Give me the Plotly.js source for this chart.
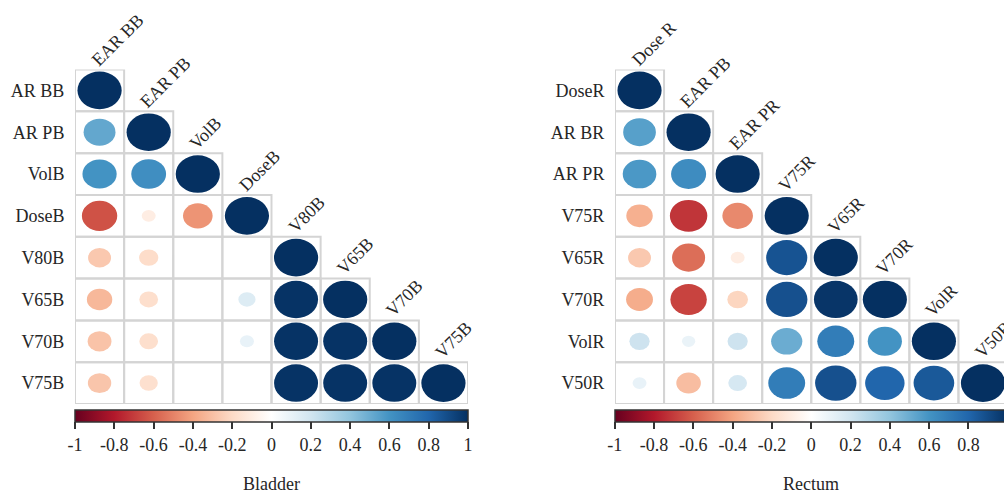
<!DOCTYPE html>
<html>
<head>
<meta charset="utf-8">
<script src="https://cdn.plot.ly/plotly-3.0.1.min.js"></script>
<style>
html, body { margin: 0; padding: 0; overflow: hidden; background: #fff; }
#chart { width: 1010px; height: 493px; }
</style>
</head>
<body>
<div id="chart"></div>
<script>
// ---------- data ----------
const bladderRows = ["AR BB", "AR PB", "VolB", "DoseB", "V80B", "V65B", "V70B", "V75B"];
const bladderCols = ["EAR BB", "EAR PB", "VolB", "DoseB", "V80B", "V65B", "V70B", "V75B"];
const bladderCorr = [
  [1],
  [0.52, 1],
  [0.60, 0.62, 1],
  [-0.64, -0.10, -0.45, 1],
  [-0.27, -0.19, 0, 0, 1],
  [-0.33, -0.18, 0, 0.15, 0.99, 1],
  [-0.29, -0.18, 0, 0.10, 0.99, 0.99, 1],
  [-0.28, -0.17, 0, 0, 0.99, 0.99, 0.99, 1]
];

const rectumRows = ["DoseR", "AR BR", "AR PR", "V75R", "V65R", "V70R", "VolR", "V50R"];
const rectumCols = ["Dose R", "EAR PB", "EAR PR", "V75R", "V65R", "V70R", "VolR", "V50R"];
const rectumCorr = [
  [1],
  [0.55, 1],
  [0.58, 0.63, 1],
  [-0.36, -0.72, -0.48, 1],
  [-0.27, -0.56, -0.10, 0.87, 1],
  [-0.37, -0.68, -0.22, 0.88, 0.98, 1],
  [0.21, 0.09, 0.21, 0.50, 0.70, 0.60, 1],
  [0.10, -0.31, 0.18, 0.70, 0.88, 0.80, 0.85, 1]
];

const panelTitles = ["Bladder", "Rectum"];
const colorTicks = [-1, -0.8, -0.6, -0.4, -0.2, 0, 0.2, 0.4, 0.6, 0.8, 1];
const colorTickText = ["-1", "-0.8", "-0.6", "-0.4", "-0.2", "0", "0.2", "0.4", "0.6", "0.8", "1"];

// ---------- styling ----------
const W = 1010, H = 493;
const palette = ["#67001F", "#B2182B", "#D6604D", "#F4A582", "#FDDBC7", "#FFFFFF",
                 "#D1E5F0", "#92C5DE", "#4393C3", "#2166AC", "#053061"];
const colorscale = palette.map((c, i) => [i / (palette.length - 1), c]);
const FONT = "Liberation Serif";
const TXT = "#262626";

function hexToRgb(h) {
  return [parseInt(h.slice(1, 3), 16), parseInt(h.slice(3, 5), 16), parseInt(h.slice(5, 7), 16)];
}
function corrColor(v) {
  const t = (v + 1) / 2 * (palette.length - 1);
  const i = Math.min(Math.floor(t), palette.length - 2);
  const f = t - i;
  const a = hexToRgb(palette[i]), b = hexToRgb(palette[i + 1]);
  const c = a.map((x, k) => Math.round(x + (b[k] - x) * f));
  return `rgb(${c[0]},${c[1]},${c[2]})`;
}

// panel pixel geometry
const panels = [
  { rows: bladderRows, cols: bladderCols, corr: bladderCorr, x0: 75, x1: 468, title: panelTitles[0] },
  { rows: rectumRows, cols: rectumCols, corr: rectumCorr, x0: 615, x1: 1007.5, title: panelTitles[1] }
];
const gridTop = 69.5, gridBottom = 404;
const cbTop = 410;

const traces = [];
const shapes = [];
const annotations = [];
const layout = {
  width: W, height: H,
  margin: { l: 0, r: 0, t: 0, b: 0 },
  paper_bgcolor: "#fff", plot_bgcolor: "rgba(0,0,0,0)",
  showlegend: false,
  font: { family: FONT, size: 18, color: TXT },
  shapes: shapes, annotations: annotations,
  hovermode: "closest"
};

panels.forEach((p, k) => {
  const xa = k === 0 ? "x" : "x2";
  const ya = k === 0 ? "y" : "y2";
  const n = p.rows.length;
  layout[k === 0 ? "xaxis" : "xaxis2"] = {
    domain: [p.x0 / W, p.x1 / W], range: [-0.5, n - 0.5],
    visible: false, fixedrange: true, anchor: ya
  };
  layout[k === 0 ? "yaxis" : "yaxis2"] = {
    domain: [1 - gridBottom / H, 1 - gridTop / H], range: [n - 0.5, -0.5],
    tickvals: p.rows.map((_, i) => i), ticktext: p.rows,
    ticks: "outside", ticklen: 6, tickcolor: "rgba(0,0,0,0)",
    showgrid: false, zeroline: false, showline: false, fixedrange: true,
    tickfont: { family: FONT, size: 18, color: TXT }, anchor: xa
  };

  const xs = [], ys = [], vals = [], txt = [];
  p.corr.forEach((row, i) => {
    row.forEach((v, j) => {
      shapes.push({
        type: "rect", xref: xa, yref: ya, layer: "below",
        x0: j - 0.5, x1: j + 0.5, y0: i - 0.5, y1: i + 0.5,
        line: { color: "#d4d4d4", width: 2 }, fillcolor: "rgba(0,0,0,0)"
      });
      xs.push(j); ys.push(i); vals.push(v);
      txt.push(p.rows[i] + " / " + p.cols[j] + ": " + v);
      if (v !== 0) {
        const r = 0.45 * Math.sqrt(Math.abs(v));
        shapes.push({
          type: "circle", xref: xa, yref: ya, layer: "above",
          x0: j - r, x1: j + r, y0: i - r, y1: i + r,
          fillcolor: corrColor(v), line: { width: 0 }
        });
      }
    });
  });

  p.cols.forEach((c, i) => {
    annotations.push({
      xref: xa, yref: ya, x: i, y: i - 0.5, text: c, textangle: -45,
      xanchor: "left", yanchor: "bottom", xshift: -15, yshift: -3,
      showarrow: false, font: { family: FONT, size: 18, color: TXT }
    });
  });

  annotations.push({
    xref: "paper", yref: "paper", x: (p.x0 + p.x1) / 2 / W, y: 1 - 484 / H,
    text: p.title, showarrow: false, xanchor: "center", yanchor: "middle",
    font: { family: FONT, size: 18, color: TXT }
  });

  traces.push({
    type: "scatter", mode: "markers", xaxis: xa, yaxis: ya,
    x: xs, y: ys, text: txt, hoverinfo: "text",
    marker: {
      size: 30, opacity: 0, color: vals, cmin: -1, cmax: 1,
      colorscale: colorscale, showscale: true,
      colorbar: {
        orientation: "h", x: (p.x0 + p.x1) / 2 / W, xanchor: "center",
        y: 1 - cbTop / H, yanchor: "top", xpad: 0, ypad: 0,
        len: p.x1 - p.x0, lenmode: "pixels", thickness: 12, thicknessmode: "pixels",
        outlinewidth: 1.5, outlinecolor: "#333",
        tickvals: colorTicks, ticktext: colorTickText,
        ticks: "outside", ticklen: 7, tickwidth: 1.5, tickcolor: "#333",
        tickfont: { family: FONT, size: 18, color: TXT }
      }
    }
  });
});

Plotly.newPlot("chart", traces, layout, { displayModeBar: false });
</script>
</body>
</html>
